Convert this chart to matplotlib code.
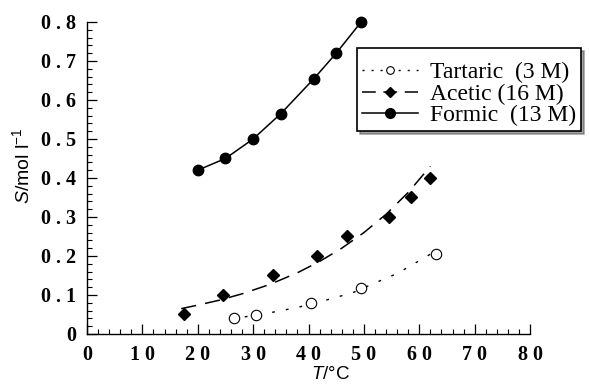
import matplotlib
matplotlib.use("Agg")
import matplotlib.pyplot as plt
from matplotlib.ticker import FixedLocator, FixedFormatter, MultipleLocator

plt.rcParams["mathtext.fontset"] = "custom"
plt.rcParams["mathtext.rm"] = "Liberation Sans"
plt.rcParams["mathtext.it"] = "Liberation Sans:italic"

# data
tart_T = [26.5, 30.5, 40.5, 49.5, 63]
tart_S = [0.04, 0.048, 0.08, 0.117, 0.205]
tart_fit_T = [26, 30, 34, 38, 44, 48, 53, 56, 60, 63]
tart_fit_S = [0.039, 0.047, 0.057, 0.068, 0.090, 0.106, 0.137, 0.155, 0.188, 0.213]

acet_T = [17.5, 24.5, 33.5, 41.5, 47, 54.5, 58.5, 62]
acet_S = [0.05, 0.10, 0.15, 0.20, 0.25, 0.30, 0.35, 0.40]
acet_fit_T = [17, 20, 24, 28, 33, 38, 42, 46, 50, 54, 58, 62]
acet_fit_S = [0.065, 0.074, 0.087, 0.103, 0.127, 0.157, 0.186, 0.220, 0.260, 0.307, 0.363, 0.430]

form_T = [20, 25, 30, 35, 41, 45, 49.5]
form_S = [0.42, 0.45, 0.50, 0.565, 0.655, 0.72, 0.80]

x_ticks = [0, 10, 20, 30, 40, 50, 60, 70, 80]
x_labels = ["0", "1 0", "2 0", "3 0", "4 0", "5 0", "6 0", "7 0", "8 0"]
y_ticks = [0, 0.1, 0.2, 0.3, 0.4, 0.5, 0.6, 0.7, 0.8]
y_labels = ["0", "0 . 1", "0 . 2", "0 . 3", "0 . 4", "0 . 5", "0 . 6", "0 . 7", "0 . 8"]

fig = plt.figure(figsize=(5.89, 3.85), dpi=100)
ax = fig.add_axes([0.1477, 0.1325, 0.7523, 0.8105])

# fitted curves
ax.plot(tart_fit_T, tart_fit_S, color="black", lw=1.0, dashes=(2, 8))
ax.plot(acet_fit_T, acet_fit_S, color="black", lw=1.1, dashes=(10, 6))
ax.plot(form_T, form_S, color="black", lw=1.1)

# points
ax.plot(tart_T, tart_S, ls="none", marker="o", ms=7.5, mfc="white", mec="black", mew=0.8, clip_on=False)
ax.plot(acet_T, acet_S, ls="none", marker="D", ms=6.5, color="black", clip_on=False)
ax.plot(form_T, form_S, ls="none", marker="o", ms=7.5, color="black", clip_on=False)

# legend handles
h1, = ax.plot([], [], color="black", lw=1.0, dashes=(1.5, 5), marker="o", ms=5.5, mfc="white", mec="black", mew=0.8)
h2, = ax.plot([], [], color="black", lw=1.1, dashes=(9, 5), marker="D", ms=5)
h3, = ax.plot([], [], color="black", lw=1.1, marker="o", ms=7)
leg = fig.legend([h1, h2, h3], ["Tartaric  (3 M)", "Acetic (16 M)", "Formic  (13 M)"],
                 loc="upper left", bbox_to_anchor=(0.606, 0.875), borderaxespad=0,
                 frameon=True, shadow=True, fancybox=False, handlelength=2.4,
                 handletextpad=0.5, borderpad=0.2, labelspacing=0.0,
                 title=" ", title_fontsize=6,
                 prop={"family": "Liberation Serif", "size": 17})
leg.get_frame().set_edgecolor("black")
leg.get_frame().set_linewidth(1.2)

ax.set_xlim(0, 80)
ax.set_ylim(0, 0.8)
for s in ["top", "right"]:
    ax.spines[s].set_visible(False)
ax.spines["left"].set_linewidth(1.0)
ax.spines["bottom"].set_linewidth(1.0)

ax.xaxis.set_major_locator(FixedLocator(x_ticks))
ax.xaxis.set_major_formatter(FixedFormatter(x_labels))
ax.yaxis.set_major_locator(FixedLocator(y_ticks))
ax.yaxis.set_major_formatter(FixedFormatter(y_labels))
ax.xaxis.set_minor_locator(MultipleLocator(2))
ax.yaxis.set_minor_locator(MultipleLocator(0.02))
ax.tick_params(which="major", direction="in", length=7, width=0.9, pad=8)
ax.tick_params(which="minor", direction="in", length=3.5, width=0.8)
for lab in ax.get_xticklabels() + ax.get_yticklabels():
    lab.set_fontfamily("Liberation Serif")
    lab.set_fontweight("bold")
    lab.set_fontsize(14.5)

ax.set_xlabel("$T$/°C", family="Liberation Sans", fontsize=13.5)
ax.set_ylabel("$S$/mol l$^{-1}$", family="Liberation Sans", fontsize=14)
ax.xaxis.set_label_coords(0.55, -0.103)
ax.yaxis.set_label_coords(-0.122, 0.54)

fig.savefig("out.png", dpi=100)
plt.close(fig)
